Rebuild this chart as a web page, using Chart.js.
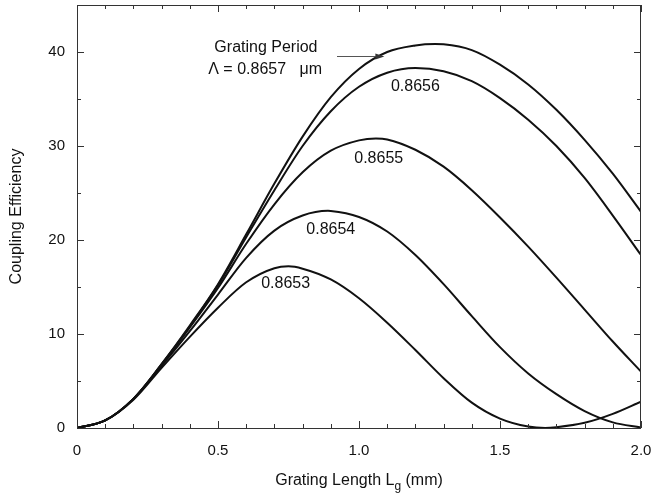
<!DOCTYPE html>
<html>
<head>
<meta charset="utf-8">
<script src="https://cdn.jsdelivr.net/npm/chart.js@4.4.0/dist/chart.umd.min.js"></script>
<style>
  html, body { margin: 0; padding: 0; background: #fff; }
  #wrap { width: 651px; height: 495px; }
</style>
</head>
<body>
<div id="wrap"><canvas id="chart" width="651" height="495"></canvas></div>
<script>
// grating length (mm)
const lengths = [0, 0.1, 0.2, 0.3, 0.4, 0.5, 0.6, 0.7, 0.8, 0.9, 1.0,
                 1.1, 1.2, 1.3, 1.4, 1.5, 1.6, 1.7, 1.8, 1.9, 2.0];

// coupling efficiency for each grating period
const eff8657 = [0, 0.8, 3.1, 6.8, 10.9, 15.3, 20.6, 26.0, 31.0, 35.2, 38.2,
                 40.0, 40.7, 40.82, 40.2, 38.65, 36.55, 33.85, 30.65, 27.05, 23.0];
const eff8656 = [0, 0.8, 3.1, 6.8, 10.8, 15.2, 20.3, 25.3, 30.0, 33.7, 36.3,
                 37.8, 38.3, 37.95, 36.9, 35.1, 32.8, 30.0, 26.6, 22.6, 18.4];
const eff8655 = [0, 0.8, 3.1, 6.7, 10.7, 14.9, 19.6, 23.8, 27.2, 29.5, 30.6,
                 30.7, 29.6, 27.8, 25.3, 22.4, 19.3, 16.0, 12.6, 9.2, 6.0];
const eff8654 = [0, 0.8, 3.1, 6.6, 10.3, 14.2, 18.1, 21.0, 22.6, 23.09, 22.45,
                 20.9, 18.4, 15.3, 11.9, 8.6, 5.8, 3.6, 1.8, 0.6, 0.05];
const eff8653 = [0, 0.8, 3.0, 6.4, 9.7, 12.8, 15.5, 17.0, 16.95, 15.8, 13.8,
                 11.2, 8.3, 5.3, 2.7, 1.0, 0.15, 0.08, 0.55, 1.5, 2.8];

const turns8657 = [[1.27, 40.85]];
const turns8656 = [];
const turns8655 = [[1.06, 30.8]];
const turns8654 = [[0.89, 23.1]];
const turns8653 = [[0.75, 17.2], [1.66, 0.0]];

const xTicks = [0, 0.5, 1.0, 1.5, 2.0];
const yTicks = [0, 10, 20, 30, 40];
const xTickLabels = ["0", "0.5", "1.0", "1.5", "2.0"];

// curve labels: [text, x, y] in data units
const curveLabels = [
  ["0.8656", 1.20, 36.3],
  ["0.8655", 1.07, 28.7],
  ["0.8654", 0.90, 21.1],
  ["0.8653", 0.74, 15.4]
];

const ink = "#111";
const font = "'Liberation Sans', Arial, sans-serif";

function toPoints(ys, turns) {
  const pts = lengths.map((x, i) => ({ x: x, y: ys[i] }));
  turns.forEach((t) => pts.push({ x: t[0], y: t[1] }));
  return pts.sort((p, q) => p.x - q.x);
}

function makeSet(ys, turns) {
  return {
    data: toPoints(ys, turns),
    borderColor: ink,
    borderWidth: 2,
    pointRadius: 0,
    fill: false,
    cubicInterpolationMode: "monotone"
  };
}

// the axes get no extra edge padding so the plot box lands where the original is
function noEdgePadding(axis) {
  axis.paddingLeft = 0;
  axis.paddingRight = 0;
  axis.paddingTop = 0;
  axis.paddingBottom = 0;
}

// frame, inward ticks, titles and annotations
const decorations = {
  id: "decorations",
  afterDraw(chart) {
    const ctx = chart.ctx;
    const a = chart.chartArea;
    const xs = chart.scales.x;
    const ys = chart.scales.y;
    ctx.save();

    ctx.strokeStyle = "#333";
    ctx.lineWidth = 1;
    ctx.strokeRect(a.left + 0.5, a.top + 0.5, a.right - a.left - 1, a.bottom - a.top);

    ctx.beginPath();
    for (let i = 0; i <= 20; i++) {
      const v = i / 10;
      const px = Math.round(xs.getPixelForValue(v)) + 0.5;
      const len = i % 5 === 0 ? 7 : 4;
      ctx.moveTo(px, a.bottom);
      ctx.lineTo(px, a.bottom - len);
      ctx.moveTo(px, a.top);
      ctx.lineTo(px, a.top + len);
    }
    for (let v = 0; v <= 45; v += 5) {
      const py = Math.round(ys.getPixelForValue(v)) + 0.5;
      const len = v % 10 === 0 ? 7 : 4;
      ctx.moveTo(a.left, py);
      ctx.lineTo(a.left + len, py);
      ctx.moveTo(a.right, py);
      ctx.lineTo(a.right - len, py);
    }
    ctx.stroke();

    ctx.fillStyle = ink;
    ctx.textBaseline = "middle";

    // x title with subscript
    const mid = (a.left + a.right) / 2;
    const main = "Grating Length L";
    const tail = " (mm)";
    ctx.font = "12px " + font;
    const wSub = ctx.measureText("g").width;
    ctx.font = "16px " + font;
    const wMain = ctx.measureText(main).width;
    const wTail = ctx.measureText(tail).width;
    const x0 = mid - (wMain + wSub + wTail) / 2;
    ctx.textAlign = "left";
    ctx.fillText(main, x0, 481);
    ctx.font = "12px " + font;
    ctx.fillText("g", x0 + wMain, 487);
    ctx.font = "16px " + font;
    ctx.fillText(tail, x0 + wMain + wSub, 481);

    // y title
    ctx.save();
    ctx.translate(17, (a.top + a.bottom) / 2);
    ctx.rotate(-Math.PI / 2);
    ctx.textAlign = "center";
    ctx.fillText("Coupling Efficiency", 0, 0);
    ctx.restore();

    // grating period note and arrow
    ctx.textAlign = "center";
    ctx.font = "16px " + font;
    ctx.fillText("Grating Period", xs.getPixelForValue(0.67), ys.getPixelForValue(40.5));
    ctx.fillText("\u039B = 0.8657   \u03BCm", xs.getPixelForValue(0.667), ys.getPixelForValue(38.1));

    const ax1 = xs.getPixelForValue(0.922);
    const ax2 = xs.getPixelForValue(1.09);
    const ay = Math.round(ys.getPixelForValue(39.6)) + 0.5;
    ctx.strokeStyle = "#555";
    ctx.lineWidth = 1.2;
    ctx.beginPath();
    ctx.moveTo(ax1, ay);
    ctx.lineTo(ax2 - 4, ay);
    ctx.stroke();
    ctx.fillStyle = "#333";
    ctx.beginPath();
    ctx.moveTo(ax2, ay);
    ctx.lineTo(ax2 - 9, ay - 3);
    ctx.lineTo(ax2 - 9, ay + 3);
    ctx.closePath();
    ctx.fill();

    ctx.fillStyle = ink;
    ctx.font = "16px " + font;
    curveLabels.forEach(function (l) {
      ctx.fillText(l[0], xs.getPixelForValue(l[1]), ys.getPixelForValue(l[2]));
    });

    ctx.restore();
  }
};

new Chart(document.getElementById("chart"), {
  type: "line",
  data: {
    datasets: [
      makeSet(eff8657, turns8657),
      makeSet(eff8656, turns8656),
      makeSet(eff8655, turns8655),
      makeSet(eff8654, turns8654),
      makeSet(eff8653, turns8653)
    ]
  },
  options: {
    responsive: false,
    animation: false,
    layout: { padding: { top: 5, right: 10, left: 0, bottom: 0 } },
    plugins: {
      legend: { display: false },
      tooltip: { enabled: false }
    },
    scales: {
      x: {
        type: "linear",
        min: 0,
        max: 2,
        afterBuildTicks(axis) {
          axis.ticks = xTicks.map((v) => ({ value: v }));
        },
        afterFit(axis) {
          axis.height = 67;
          noEdgePadding(axis);
        },
        grid: { display: false, drawTicks: false },
        border: { display: false },
        ticks: {
          color: ink,
          padding: 14,
          maxRotation: 0,
          font: { family: font, size: 15 },
          callback: function (v) {
            const i = xTicks.indexOf(v);
            return i >= 0 ? xTickLabels[i] : "";
          }
        }
      },
      y: {
        min: 0,
        max: 45,
        afterBuildTicks(axis) {
          axis.ticks = yTicks.map((v) => ({ value: v }));
        },
        afterFit(axis) {
          axis.width = 77;
          noEdgePadding(axis);
        },
        grid: { display: false, drawTicks: false },
        border: { display: false },
        ticks: {
          color: ink,
          padding: 12,
          font: { family: font, size: 15 }
        }
      }
    }
  },
  plugins: [decorations]
});
</script>
</body>
</html>
